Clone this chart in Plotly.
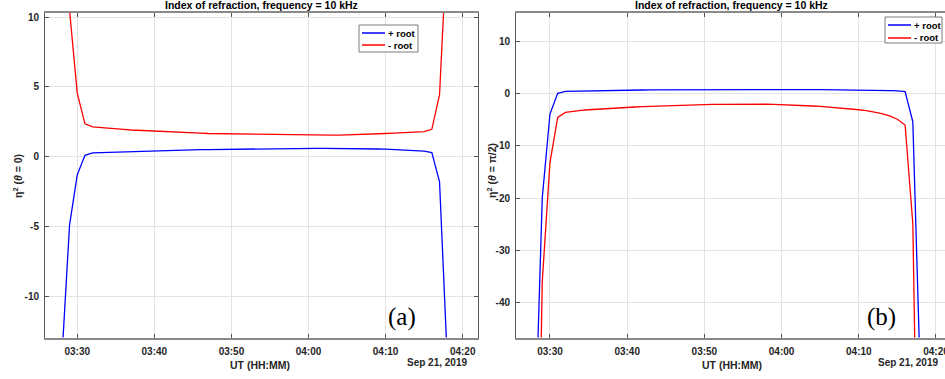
import pandas as pd
import plotly.graph_objects as go

W, H = 945, 379

# ---------------- data (1-minute samples, 03:28 .. 04:18 UT, Sep 21 2019) ----------------
times = pd.date_range("2019-09-21 03:28:00", "2019-09-21 04:18:00", freq="1min")

# theta = 0
par_plus = [-14.5, -4.9, -1.3, 0.10, 0.27, 0.29, 0.31, 0.33, 0.35, 0.37,
            0.39, 0.41, 0.43, 0.44, 0.45, 0.47, 0.48, 0.49, 0.50, 0.51,
            0.52, 0.53, 0.54, 0.55, 0.56, 0.57, 0.57, 0.58, 0.59, 0.59,
            0.60, 0.60, 0.60, 0.60, 0.60, 0.60, 0.59, 0.59, 0.58, 0.57,
            0.56, 0.55, 0.54, 0.52, 0.50, 0.47, 0.44, 0.40, 0.30, -1.8,
            -14.5]
par_minus = [25.0, 10.5, 4.55, 2.35, 2.14, 2.08, 2.03, 1.99, 1.95, 1.91,
             1.88, 1.85, 1.81, 1.78, 1.76, 1.74, 1.72, 1.70, 1.68, 1.66,
             1.65, 1.63, 1.62, 1.61, 1.60, 1.59, 1.58, 1.57, 1.56, 1.55,
             1.54, 1.54, 1.53, 1.53, 1.54, 1.54, 1.55, 1.56, 1.58, 1.60,
             1.62, 1.64, 1.66, 1.68, 1.70, 1.73, 1.76, 1.80, 1.96, 4.45,
             15.7]

# theta = pi/2
perp_plus = [-69.0, -20.0, -3.9, 0.06, 0.44, 0.48, 0.51, 0.54, 0.57, 0.60,
             0.62, 0.64, 0.66, 0.68, 0.70, 0.71, 0.72, 0.73, 0.74, 0.75,
             0.76, 0.77, 0.78, 0.78, 0.79, 0.79, 0.80, 0.80, 0.80, 0.80,
             0.80, 0.80, 0.80, 0.79, 0.79, 0.78, 0.78, 0.77, 0.76, 0.75,
             0.74, 0.72, 0.70, 0.68, 0.65, 0.62, 0.58, 0.52, 0.40, -5.4,
             -56.0]
perp_minus = [-120.0, -36.0, -13.2, -4.56, -3.60, -3.35, -3.20, -3.08, -2.97, -2.87,
              -2.78, -2.70, -2.62, -2.55, -2.48, -2.42, -2.36, -2.30, -2.25, -2.20,
              -2.16, -2.12, -2.09, -2.06, -2.04, -2.02, -2.01, -2.00, -2.00, -2.01,
              -2.03, -2.06, -2.10, -2.15, -2.21, -2.28, -2.36, -2.45, -2.55, -2.66,
              -2.78, -2.92, -3.08, -3.26, -3.50, -3.80, -4.25, -4.90, -6.00, -24.9,
              -115.0]

left_yticks = [-10, -5, 0, 5, 10]
right_yticks = [-40, -30, -20, -10, 0, 10]

series_names = ["+ root", "- root"]
series_colors = ["#0000FF", "#FF0000"]
title_text = "Index of refraction, frequency = 10 kHz"
xlabel_text = "UT (HH:MM)"
date_text = "Sep 21, 2019"
ylabels = ["η<sup>2</sup> (<i>θ</i> = 0)", "η<sup>2</sup> (<i>θ</i> = π/2)"]
panel_tags = ["(a)", "(b)"]

# ---------------- helpers ----------------
def px(x):
    return x / W

def py(y):
    return 1 - y / H

FONT = "Liberation Sans, Arial, Helvetica, sans-serif"
AX_COLOR = "#262626"

fig = go.Figure()

panels = [
    dict(x="x", y="y", plus=par_plus, minus=par_minus),
    dict(x="x2", y="y2", plus=perp_plus, minus=perp_minus),
]
for p in panels:
    for name, vals, col in zip(series_names, [p["plus"], p["minus"]], series_colors):
        fig.add_trace(go.Scatter(
            x=times, y=vals, mode="lines", name=name,
            line=dict(color=col, width=1.3),
            xaxis=p["x"], yaxis=p["y"], showlegend=False,
        ))

common_x = dict(
    type="date", tickformat="%H:%M", dtick=600000,
    showgrid=True, gridcolor="#e3e3e3", gridwidth=1,
    showline=True, linecolor="#8a8a8a", linewidth=1.5, mirror="ticks",
    ticks="inside", ticklen=4, tickcolor="#555555",
    tickfont=dict(family=FONT, size=10, color=AX_COLOR, weight="bold"),
    ticklabelstandoff=4, zeroline=False, ticklabeloverflow="allow",
    automargin=False,
)
common_y = dict(
    showgrid=True, gridcolor="#e3e3e3", gridwidth=1,
    showline=True, linecolor="#555555", linewidth=1,
    ticks="inside", ticklen=4, tickcolor="#555555",
    tickfont=dict(family=FONT, size=10, color=AX_COLOR, weight="bold"),
    ticklabelstandoff=3, zeroline=False, automargin=False,
)

ytop, ybot = 13, 337.5
fig.update_layout(
    width=W, height=H,
    margin=dict(l=0, r=0, t=0, b=0),
    paper_bgcolor="white", plot_bgcolor="white",
    showlegend=False,
    xaxis=dict(common_x, domain=[px(45), px(477.7)], anchor="y",
               range=["2019-09-21 03:25:49", "2019-09-21 04:21:57"]),
    yaxis=dict(common_y, domain=[py(ybot), py(ytop)], anchor="x",
               range=[-12.95, 10.29], tickvals=left_yticks,
               ticktext=[f"{v:g}" for v in left_yticks], mirror="ticks"),
    xaxis2=dict(common_x, domain=[px(516), 1.0], anchor="y2",
                range=["2019-09-21 03:25:36", "2019-09-21 04:21:10"]),
    yaxis2=dict(common_y, domain=[py(ybot), py(ytop)], anchor="x2",
                range=[-46.7, 15.45], tickvals=right_yticks,
                ticktext=[f"{v:g}" for v in right_yticks], mirror=False),
)

ann = []
shapes = []
for cx in [261, 731.5]:
    ann.append(dict(x=px(cx), y=py(4.5), xref="paper", yref="paper", text=title_text,
                    showarrow=False, xanchor="center", yanchor="middle",
                    font=dict(family=FONT, size=10.5, color="black", weight="bold")))
for cx in [260, 731.5]:
    ann.append(dict(x=px(cx), y=py(365), xref="paper", yref="paper", text=xlabel_text,
                    showarrow=False, xanchor="center", yanchor="middle",
                    font=dict(family=FONT, size=10.5, color=AX_COLOR, weight="bold")))
for cx in [437, 908]:
    ann.append(dict(x=px(cx), y=py(362), xref="paper", yref="paper", text=date_text,
                    showarrow=False, xanchor="center", yanchor="middle",
                    font=dict(family=FONT, size=10, color=AX_COLOR, weight="bold")))
for (cx, cy), t in zip([(17, 176), (491, 171)], ylabels):
    ann.append(dict(x=px(cx), y=py(cy), xref="paper", yref="paper", text=t,
                    showarrow=False, xanchor="center", yanchor="middle", textangle=-90,
                    font=dict(family=FONT, size=10.5, color=AX_COLOR, weight="bold")))
for (cx, cy), t in zip([(402, 317), (881, 317)], panel_tags):
    ann.append(dict(x=px(cx), y=py(cy), xref="paper", yref="paper", text=t,
                    showarrow=False, xanchor="center", yanchor="middle",
                    font=dict(family="Liberation Serif, Times New Roman, serif", size=25, color="black")))

# legends (box, line samples, labels)
legend_boxes = [dict(x0=359, x1=418, y0=25, y1=52, row_y=[33, 45]),
                dict(x0=885, x1=942, y0=17, y1=43, row_y=[25, 38])]
for lb in legend_boxes:
    shapes.append(dict(type="rect", xref="paper", yref="paper",
                       x0=px(lb["x0"]), x1=px(lb["x1"]), y0=py(lb["y1"]), y1=py(lb["y0"]),
                       line=dict(color="#7a7a7a", width=1), fillcolor="white", layer="above"))
    for ry, name, col in zip(lb["row_y"], series_names, series_colors):
        shapes.append(dict(type="line", xref="paper", yref="paper",
                           x0=px(lb["x0"] + 3), x1=px(lb["x0"] + 26), y0=py(ry), y1=py(ry),
                           line=dict(color=col, width=1.5), layer="above"))
        ann.append(dict(x=px(lb["x0"] + 27), y=py(ry), xref="paper", yref="paper", text=name,
                        showarrow=False, xanchor="left", yanchor="middle",
                        font=dict(family=FONT, size=9.5, color="black", weight="bold")))

fig.update_layout(annotations=ann, shapes=shapes)

fig.write_html("out.html")
